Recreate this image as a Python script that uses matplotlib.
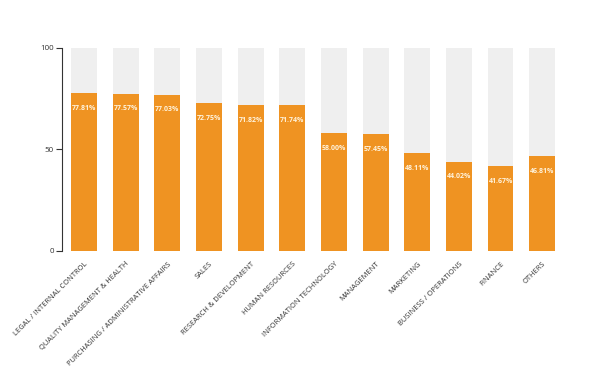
import matplotlib.pyplot as plt

# Share of respondents per department (percent)
departments = [
    "LEGAL / INTERNAL CONTROL", "QUALITY MANAGEMENT & HEALTH",
    "PURCHASING / ADMINISTRATIVE AFFAIRS", "SALES", "RESEARCH & DEVELOPMENT",
    "HUMAN RESOURCES", "INFORMATION TECHNOLOGY", "MANAGEMENT", "MARKETING",
    "BUSINESS / OPERATIONS", "FINANCE", "OTHERS",
]
values = [77.81, 77.57, 77.03, 72.75, 71.82, 71.74, 58.00, 57.45, 48.11, 44.02, 41.67, 46.81]
full = [100] * len(values)

orange = "#EF9322"
grey_bg = "#EFEFEF"
text_col = "#333333"

plt.rcParams["font.family"] = ["Open Sans", "DejaVu Sans"]

fig = plt.figure(figsize=(5.99, 3.8), dpi=100)
ax = fig.add_axes([0.1035, 0.3395, 0.8365, 0.5342])

x = range(len(values))
ax.bar(x, full, width=0.62, color=grey_bg, zorder=1)
ax.bar(x, values, width=0.62, color=orange, zorder=2)

for i, v in enumerate(values):
    ax.annotate(f"{v:.2f}%", (i, v), xytext=(0, -11), textcoords="offset points",
                ha="center", va="center", fontsize=5.0, color="#FFF3DC",
                fontweight="bold", zorder=3)

ax.set_xlim(-0.53, 11.5)
ax.set_ylim(0, 100)
ax.set_yticks([0, 50, 100])
ax.tick_params(axis="y", labelsize=5.8, length=4, width=0.8, colors=text_col, pad=2)
ax.set_xticks(list(x))
ax.set_xticklabels(departments, rotation=45, ha="right", rotation_mode="anchor",
                   fontsize=5.4, color=text_col)
ax.tick_params(axis="x", length=0, pad=7)

for s in ["top", "right", "bottom"]:
    ax.spines[s].set_visible(False)
ax.spines["left"].set_color(text_col)
ax.spines["left"].set_linewidth(0.8)

fig.savefig("out.png", dpi=100)
